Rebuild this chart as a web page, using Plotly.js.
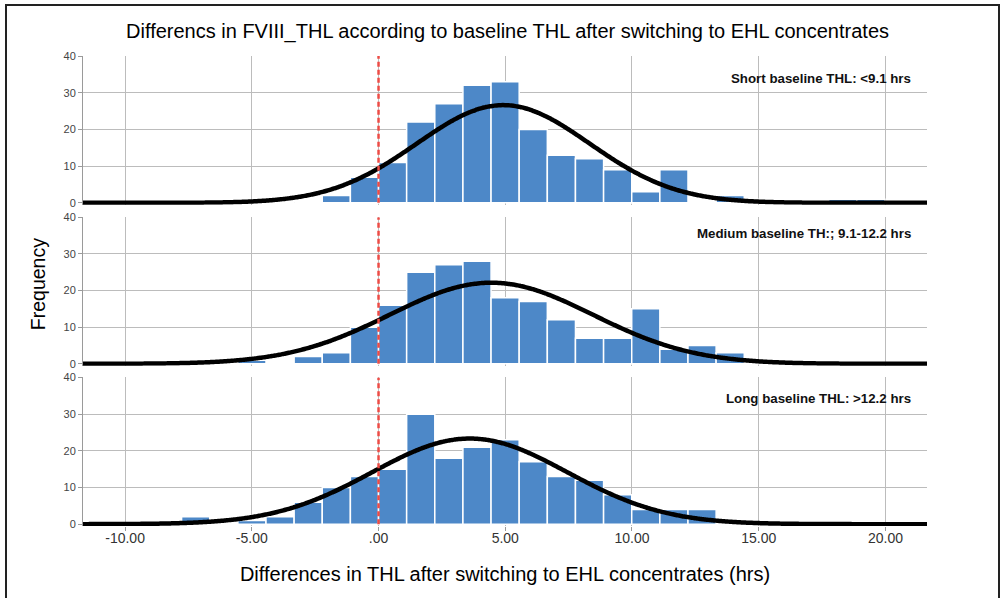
<!DOCTYPE html>
<html>
<head>
<meta charset="utf-8">
<script src="https://cdn.plot.ly/plotly-3.0.1.min.js"></script>
<style>
  html, body { margin: 0; padding: 0; background: #ffffff; }
  #wrap { position: relative; width: 1005px; height: 598px; overflow: hidden; }
  #chart { position: absolute; left: 0; top: 0; width: 1005px; height: 598px; }
  #frame { position: absolute; left: 5px; top: 4px; width: 991px; height: 620px;
           border: 2px solid #222; pointer-events: none; }
</style>
</head>
<body>
<div id="wrap">
  <div id="chart"></div>
  <div id="frame"></div>
</div>
<script>
// Histogram bins shared by all three groups (hrs)
const binStart = -7.77;
const binWidth = 1.11;

// Frequencies per bin, one array per baseline THL group
const countsShort  = [0, 0, 0, 0, 0, 2, 7, 11, 22, 27, 32, 33, 20, 13, 12, 9, 3, 9, 0, 2, 1, 0, 0, 1, 1];
const countsMedium = [0, 0, 1, 0, 2, 3, 10, 16, 25, 27, 28, 18, 17, 12, 7, 7, 15, 4, 5, 3, 0, 0, 0, 0, 0];
const countsLong   = [2, 0, 1, 2, 6, 10, 13, 15, 30, 18, 21, 23, 17, 13, 12, 8, 4, 4, 4, 0, 0, 0, 0, 0, 0];

// Fitted normal curve parameters per group
const groupMean = [4.92, 4.45, 3.6];
const groupSD   = [3.41, 4.0, 3.85];

const groupLabels = ['Short baseline THL: <9.1 hrs', 'Medium baseline TH:; 9.1-12.2 hrs', 'Long baseline THL: >12.2 hrs'];

// Axis ticks
const xTickVals  = [-10, -5, 0, 5, 10, 15, 20];
const xTickText  = ['-10.00', '-5.00', '.00', '5.00', '10.00', '15.00', '20.00'];
const yTickVals  = [0, 10, 20, 30, 40];

const xRange = [-11.66, 21.64];
const yRange = [-0.5, 40];

const BAR_COLOR = '#4d88c8';
const FONT = 'Liberation Sans, Arial, sans-serif';

const centers = countsShort.map((_, i) => binStart + (i + 0.5) * binWidth);
const allCounts = [countsShort, countsMedium, countsLong];
const yNames = ['y', 'y2', 'y3'];

function normalCurve(mean, sd, n) {
  const xs = [], ys = [];
  const steps = 400;
  for (let i = 0; i <= steps; i++) {
    const x = xRange[0] + (xRange[1] - xRange[0]) * i / steps;
    const z = (x - mean) / sd;
    xs.push(x);
    ys.push(n * binWidth * Math.exp(-0.5 * z * z) / (sd * Math.sqrt(2 * Math.PI)));
  }
  return { xs, ys };
}

const traces = [];
allCounts.forEach((counts, g) => {
  traces.push({
    type: 'bar', x: centers, y: counts, width: binWidth,
    xaxis: 'x', yaxis: yNames[g],
    marker: { color: BAR_COLOR, line: { color: '#ffffff', width: 1.5 } },
    hoverinfo: 'skip'
  });
});
allCounts.forEach((counts, g) => {
  const n = counts.reduce((a, b) => a + b, 0);
  const c = normalCurve(groupMean[g], groupSD[g], n);
  traces.push({
    type: 'scatter', mode: 'lines', x: c.xs, y: c.ys,
    xaxis: 'x', yaxis: yNames[g],
    line: { color: '#000000', width: 4.5, shape: 'spline' },
    hoverinfo: 'skip'
  });
});

function yAxis(domain) {
  return {
    domain: domain, range: yRange, tickvals: yTickVals,
    showgrid: true, gridcolor: '#bcbcbc', gridwidth: 1,
    zeroline: false, showline: true, linecolor: '#9a9a9a', linewidth: 1,
    ticks: 'outside', ticklen: 4, tickcolor: '#9a9a9a',
    tickfont: { family: FONT, size: 11, color: '#444444' },
    fixedrange: true
  };
}

const shapes = yNames.map(yn => ({
  type: 'line', xref: 'x', yref: yn, x0: 0, x1: 0, y0: 0, y1: 40,
  line: { color: '#ee4b45', width: 2.5, dash: '5px,3px' }, layer: 'above'
}));

const annotations = groupLabels.map((t, g) => ({
  text: '<b>' + t + '</b>', xref: 'paper', yref: yNames[g],
  x: 0.983, y: [34, 35.6, 34.2][g], xanchor: 'right', yanchor: 'middle',
  showarrow: false, font: { family: FONT, size: 13.3, color: '#111111' }
}));
annotations.push({
  text: 'Frequency', xref: 'paper', yref: 'paper', x: -0.053, y: 0.515,
  xanchor: 'center', yanchor: 'middle', textangle: -90, showarrow: false,
  font: { family: FONT, size: 19.5, color: '#000000' }
});

const layout = {
  width: 1005, height: 598,
  margin: { l: 83, r: 78, t: 56, b: 72 },
  paper_bgcolor: '#ffffff', plot_bgcolor: '#ffffff',
  showlegend: false, bargap: 0,
  font: { family: FONT },
  title: {
    text: 'Differencs in FVIII_THL according to baseline THL after switching to EHL concentrates',
    font: { family: FONT, size: 20, color: '#000000' },
    x: 0.503, xref: 'paper', xanchor: 'center', y: 0.948, yref: 'container', yanchor: 'middle'
  },
  xaxis: {
    anchor: 'y3', range: xRange, tickvals: xTickVals, ticktext: xTickText,
    showgrid: true, gridcolor: '#bcbcbc', gridwidth: 1, zeroline: false,
    showline: false, ticks: 'outside', ticklen: 4, tickcolor: '#9a9a9a',
    ticklabelstandoff: -5,
    tickfont: { family: FONT, size: 14, color: '#333333' },
    title: { text: 'Differences in THL after switching to EHL concentrates (hrs)',
             font: { family: FONT, size: 20, color: '#000000' }, standoff: 22 },
    fixedrange: true
  },
  yaxis:  yAxis([0.6836, 1]),
  yaxis2: yAxis([0.3411, 0.657]),
  yaxis3: yAxis([0, 0.316]),
  shapes: shapes,
  annotations: annotations
};

Plotly.newPlot('chart', traces, layout, { staticPlot: true, displayModeBar: false });
</script>
</body>
</html>
